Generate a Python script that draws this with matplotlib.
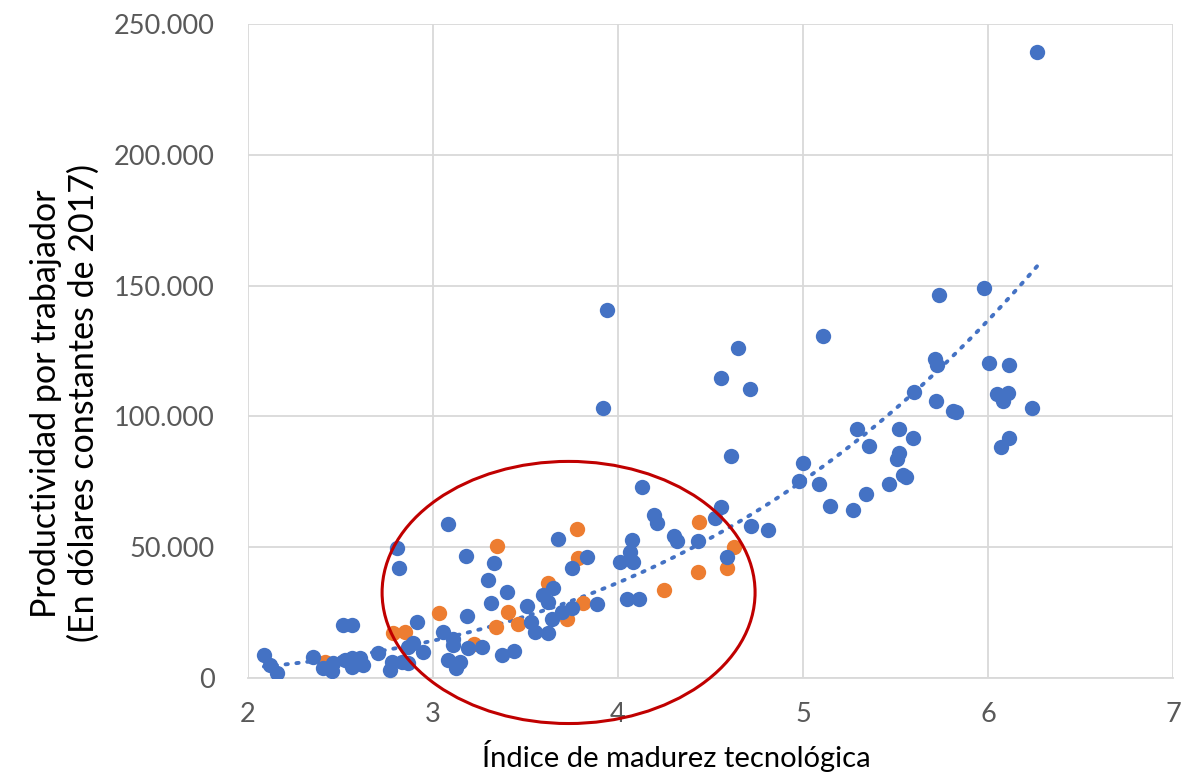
import numpy as np
import matplotlib
matplotlib.use("Agg")
import matplotlib.pyplot as plt
from matplotlib.patches import Ellipse
from matplotlib.ticker import FuncFormatter

# Blue series (indice, productividad)
blue_x = [2.086, 2.119, 2.157, 2.351, 2.405, 2.454, 2.459, 2.524, 2.562, 2.605,
          2.622, 2.562, 2.514, 2.562, 2.703, 2.768, 2.778, 2.832, 2.865, 2.914,
          2.865, 2.892, 2.946, 2.805, 2.816, 3.081, 3.054, 3.108, 3.108, 3.081,
          3.146, 3.124, 3.189, 3.265, 3.178, 3.330, 3.297, 3.314, 3.184, 3.400,
          3.508, 3.373, 3.438, 3.530, 3.551, 3.622, 3.643, 3.697, 3.595,
          3.622, 3.649, 3.676, 3.751, 3.832, 3.886, 3.751, 3.941, 3.919, 4.011,
          4.081, 4.065, 4.076, 4.049, 4.114, 4.130, 4.195, 4.211, 4.303, 4.319,
          4.432, 4.524, 4.557, 4.589, 4.611, 4.557, 4.649, 4.714, 4.719, 4.811,
          5.000, 4.978, 5.086, 5.146, 5.108, 5.270, 5.292, 5.341, 5.357, 5.465,
          5.508, 5.519, 5.519, 5.541, 5.557, 5.595, 5.600, 5.714, 5.724, 5.735,
          5.719, 5.811, 5.827, 5.978, 6.005, 6.049, 6.108, 6.081, 6.114, 6.114,
          6.070, 6.238, 6.265]
blue_y = [8800, 4970, 1900, 8030, 3820, 2680, 5730, 6880, 7650, 7650,
          4970, 4200, 20260, 20260, 9560, 3060, 6120, 6120, 5730, 21400,
          11850, 13380, 9940, 49700, 42050, 58870, 17590, 14910, 12620, 6880,
          6120, 3820, 11470, 11850, 46640, 43960, 37460, 28670, 23700, 32880,
          27530, 8800, 10320, 21410, 17590, 17200, 22560, 25230, 31730,
          29050, 34400, 53140, 42050, 46260, 28290, 26760, 140690, 103220, 44350,
          44350, 48170, 52760, 30200, 30200, 73020, 62310, 59260, 54290, 52370,
          52370, 61170, 65370, 46260, 84870, 114690, 126160, 110480, 58110, 56580,
          82190, 75310, 74170, 65760, 130750, 64230, 95190, 70340, 88690, 74170,
          83720, 86020, 95190, 77610, 76840, 91750, 109340, 121950, 119660, 146420,
          105900, 102070, 101690, 149100, 120420, 108570, 108950, 105900, 119660, 91750,
          88310, 103220, 239320]

# Orange series
orange_x = [2.416, 2.784, 2.849, 3.032, 3.346, 3.405, 3.341, 3.459, 3.222, 3.622,
            3.778, 3.784, 3.724, 3.811, 4.249, 4.438, 4.432, 4.589, 4.627]
orange_y = [6120, 17200, 17590, 24850, 50460, 25230, 19500, 20640, 13000, 36320,
            56960, 45880, 22560, 28670, 33640, 59640, 40520, 42050, 50080]

x_ticks = [2, 3, 4, 5, 6, 7]
y_ticks = [0, 50000, 100000, 150000, 200000, 250000]

plt.rcParams['font.family'] = ['Lato', 'DejaVu Sans']

fig = plt.figure(figsize=(11.95, 7.77), dpi=100)
ax = fig.add_axes([0.2075, 0.1274, 0.7741, 0.8417])

grid_c = '#D9D9D9'
ax.set_xlim(2, 7)
ax.set_ylim(0, 250000)
ax.set_xticks(x_ticks)
ax.set_yticks(y_ticks)
ax.grid(True, color=grid_c, linewidth=1.3, zorder=0)
ax.set_axisbelow(True)
for s in ['top', 'right', 'left']:
    ax.spines[s].set_visible(False)
ax.spines['bottom'].set_color(grid_c)
ax.spines['bottom'].set_linewidth(1.3)
ax.tick_params(length=0, labelsize=19.5, labelcolor='#595959')
ax.tick_params(axis='y', pad=24)
ax.tick_params(axis='x', pad=17)
ax.yaxis.set_major_formatter(FuncFormatter(lambda v, p: f'{int(v):,}'.replace(',', '.')))

# orange under blue, as in the original
ax.scatter(orange_x, orange_y, s=122, color='#ED7D31', zorder=3, linewidths=0)
ax.scatter(blue_x, blue_y, s=122, color='#4472C4', zorder=3.5, linewidths=0)

# power trend line fitted on the blue series
bx = np.array(blue_x)
by = np.array(blue_y)
b, lna = np.polyfit(np.log(bx), np.log(by), 1)
tx = np.linspace(bx.min(), bx.max(), 200)
ax.plot(tx, np.exp(lna) * tx ** b, linestyle=(0, (0.6, 2.2)), color='#4472C4',
        linewidth=2.8, dash_capstyle='round', zorder=2)

ell = Ellipse((3.733, 32700), 2.016, 100200, fill=False, edgecolor='#C00000',
              linewidth=2.2, zorder=4, clip_on=False)
ax.add_patch(ell)

ax.set_xlabel('Índice de madurez tecnológica', fontsize=21)
ax.xaxis.set_label_coords(0.463, -0.095)
ax.set_ylabel('Productividad por trabajador\n(En dólares constantes de 2017)',
              fontsize=24.5, linespacing=1.2)
ax.yaxis.set_label_coords(-0.16, 0.42)

fig.savefig('out.png', dpi=100)
